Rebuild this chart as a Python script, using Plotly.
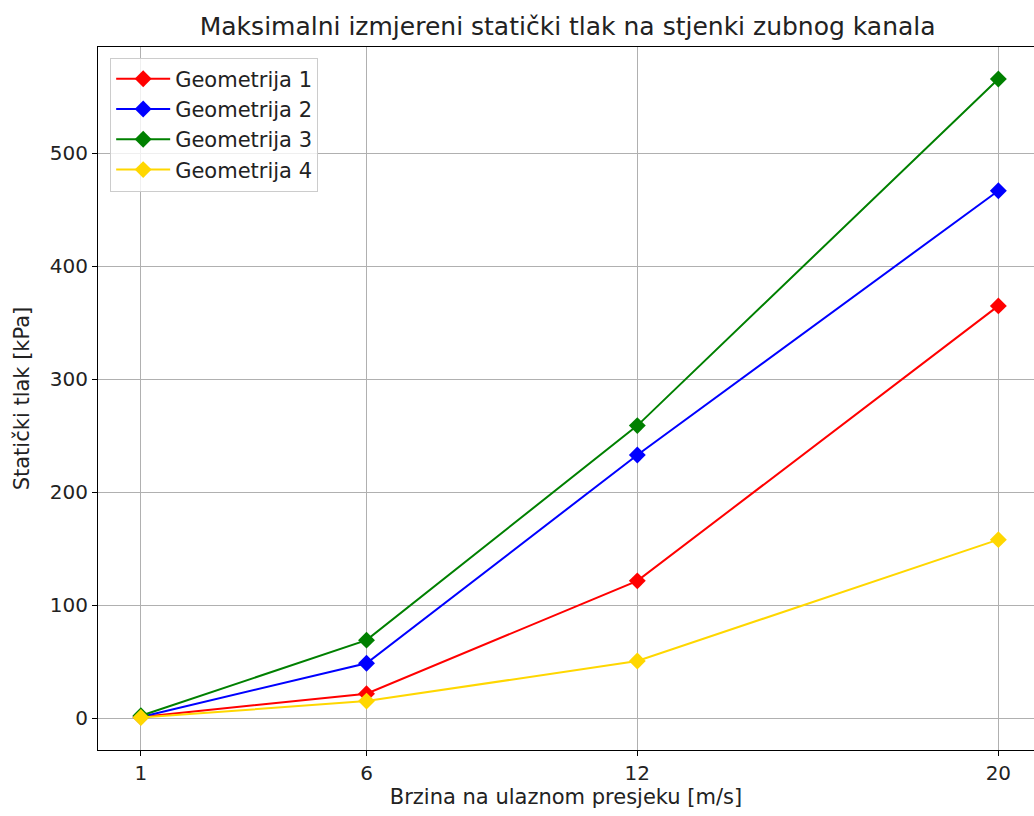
import plotly.graph_objects as go

# Inlet velocity [m/s]
brzina = [1, 6, 12, 20]

# Maximum measured static pressure [kPa] per geometry
geometrija_1 = [1, 21.5, 121.5, 365]
geometrija_2 = [1, 48.5, 233, 467]
geometrija_3 = [2, 69, 259, 566]
geometrija_4 = [0.5, 15, 50.5, 158]

serije = [
    ("Geometrija 1", geometrija_1, "#ff0000"),
    ("Geometrija 2", geometrija_2, "#0000ff"),
    ("Geometrija 3", geometrija_3, "#008000"),
    ("Geometrija 4", geometrija_4, "#ffd700"),
]

x_ticks = [1, 6, 12, 20]
y_ticks = [0, 100, 200, 300, 400, 500]

font = "DejaVu Sans"
txt = "#222222"

fig = go.Figure()
for i, (naziv, vrijednosti, boja) in enumerate(serije):
    fig.add_trace(go.Scatter(
        x=brzina, y=vrijednosti, name=naziv, mode="lines+markers",
        line=dict(color=boja, width=2),
        marker=dict(symbol="diamond", size=13, color=boja),
        legendgroup=f"g{i}",
    ))

axis_common = dict(
    showgrid=True, gridcolor="#b0b0b0", gridwidth=1,
    showline=True, linecolor="black", linewidth=1.2,
    ticks="outside", ticklen=5, tickcolor="black",
    tickfont=dict(family=font, size=20, color=txt),
    zeroline=False,
)

fig.update_layout(
    width=1034, height=816,
    margin=dict(l=98, r=0, t=47, b=66),
    paper_bgcolor="white", plot_bgcolor="white",
    title=dict(
        text="Maksimalni izmjereni statički tlak na stjenki zubnog kanala",
        xref="container", x=0.549, xanchor="center", y=0.968, yanchor="middle",
        font=dict(family=font, size=25, color=txt),
    ),
    xaxis=dict(
        axis_common, range=[0.05, 20.79], tickvals=x_ticks, mirror=True,
        title=dict(text="Brzina na ulaznom presjeku [m/s]",
                   font=dict(family=font, size=21, color=txt), standoff=4),
    ),
    yaxis=dict(
        axis_common, range=[-28.3, 594.3], tickvals=y_ticks,
        title=dict(text="Statički tlak [kPa]",
                   font=dict(family=font, size=21, color=txt), standoff=14),
    ),
    legend=dict(
        x=0.013, y=0.985, xanchor="left", yanchor="top",
        bgcolor="rgba(255,255,255,0.8)", bordercolor="#cccccc", borderwidth=1,
        font=dict(family=font, size=21, color=txt),
        tracegroupgap=0, traceorder="grouped", itemwidth=54,
    ),
    showlegend=True,
)

fig.write_html("out.html")
